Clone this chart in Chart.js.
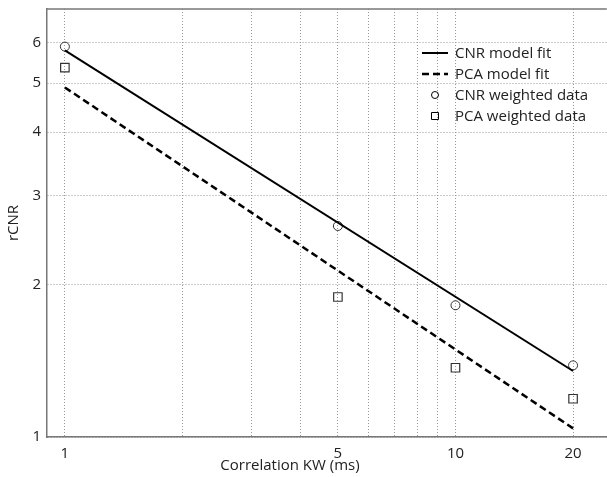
<!DOCTYPE html>
<html>
<head>
<meta charset="utf-8">
<script src="https://cdn.jsdelivr.net/npm/chart.js@4"></script>
<style>
  html, body { margin: 0; padding: 0; background: #fff; overflow: hidden; }
  /* a bit wider than the window so the plot box runs off the right edge, as in the picture */
  #wrap { width: 614px; height: 477px; }
</style>
</head>
<body>
<div id="wrap"><canvas id="myChart"></canvas></div>
<script>
// data
const kwValues = [1, 5, 10, 20];
const cnrData = [5.9, 2.61, 1.82, 1.385];
const pcaData = [5.36, 1.89, 1.37, 1.19];
const fitX = [1, 20];
const cnrFit = [5.8, 1.35];
const pcaFit = [4.9, 1.04];

const xGridValues = [1, 2, 3, 4, 5, 6, 7, 8, 9, 10, 20];
const xTickLabels = [1, 5, 10, 20];
const yGridValues = [1, 2, 3, 4, 5, 6];
const yTickLabels = [1, 2, 3, 4, 5, 6];

const legendLabels = ["CNR model fit", "PCA model fit", "CNR weighted data", "PCA weighted data"];

const FONT = "'Open Sans', 'Noto Sans', sans-serif";

function toPoints(xs, ys) {
  return xs.map((x, i) => ({ x: x, y: ys[i] }));
}

// draws the top border, the x title and the legend
const extras = {
  id: "extras",
  afterDraw(chart) {
    const ctx = chart.ctx;
    const area = chart.chartArea;
    ctx.save();
    ctx.strokeStyle = "#777";
    ctx.lineWidth = 1.5;
    ctx.beginPath();
    ctx.moveTo(area.left, area.top);
    ctx.lineTo(area.right, area.top);
    ctx.stroke();

    ctx.fillStyle = "#222";
    ctx.font = "15px " + FONT;
    ctx.textAlign = "center";
    ctx.textBaseline = "middle";
    ctx.fillText("Correlation KW (ms)", 290, 466);

    // legend
    const lx = 422, tx = 455;
    const rows = [53, 74, 95, 116];
    ctx.textAlign = "left";
    ctx.font = "15px " + FONT;
    chart.data.datasets.forEach((ds, i) => {
      const y = rows[i];
      ctx.strokeStyle = "#000";
      if (ds.showLine) {
        ctx.lineWidth = ds.borderWidth;
        ctx.setLineDash(ds.borderDash || []);
        ctx.beginPath();
        ctx.moveTo(lx, y);
        ctx.lineTo(lx + 26, y);
        ctx.stroke();
        ctx.setLineDash([]);
      } else {
        ctx.lineWidth = 1;
        ctx.beginPath();
        if (ds.pointStyle === "circle") {
          ctx.arc(lx + 13, y, 3.5, 0, Math.PI * 2);
        } else {
          ctx.rect(lx + 9.5, y - 3.5, 7, 7);
        }
        ctx.stroke();
      }
      ctx.fillStyle = "#222";
      ctx.fillText(legendLabels[i], tx, y + 1);
    });
    ctx.restore();
  }
};

const gridStyle = {
  color: "#999",
  lineWidth: 1,
  drawTicks: false
};

var ctx = document.getElementById("myChart").getContext("2d");
var myChart = new Chart(ctx, {
  type: "scatter",
  data: {
    datasets: [
      {
        label: legendLabels[0],
        data: toPoints(fitX, cnrFit),
        showLine: true,
        borderColor: "#000",
        borderWidth: 2,
        pointRadius: 0,
      },
      {
        label: legendLabels[1],
        data: toPoints(fitX, pcaFit),
        showLine: true,
        borderColor: "#000",
        borderWidth: 2.5,
        borderDash: [7, 4],
        pointRadius: 0,
      },
      {
        label: legendLabels[2],
        data: toPoints(kwValues, cnrData),
        pointStyle: "circle",
        pointRadius: 4.5,
        borderColor: "#333",
        borderWidth: 1,
        backgroundColor: "rgba(255,255,255,0)",
      },
      {
        label: legendLabels[3],
        data: toPoints(kwValues, pcaData),
        pointStyle: "rect",
        pointRadius: 6,
        borderColor: "#333",
        borderWidth: 1.2,
        backgroundColor: "rgba(255,255,255,0)",
      },
    ],
  },
  options: {
    responsive: true,
    maintainAspectRatio: false,
    animation: false,
    layout: { padding: { top: 9, right: 0, bottom: 16, left: 5 } },
    plugins: {
      legend: { display: false },
      tooltip: { enabled: false },
    },
    scales: {
      x: {
        type: "logarithmic",
        min: 0.9,
        max: 24.4,
        afterBuildTicks: (scale) => {
          scale.ticks = xGridValues.map((v) => ({ value: v }));
        },
        afterFit: (scale) => {
          scale.paddingLeft = 0;
          scale.paddingRight = 0;
          scale.height = 24;
        },
        ticks: {
          autoSkip: false,
          maxRotation: 0,
          padding: 8,
          color: "#222",
          font: { family: FONT, size: 15 },
          callback: (v) => (xTickLabels.includes(v) ? String(v) : ""),
        },
        grid: gridStyle,
        border: { display: true, color: "#777", width: 1.5, dash: [1, 2] },
      },
      y: {
        type: "logarithmic",
        min: 1,
        max: 7,
        afterBuildTicks: (scale) => {
          scale.ticks = yGridValues.map((v) => ({ value: v }));
        },
        afterFit: (scale) => {
          scale.width = 42;
          scale.paddingTop = 0;
          scale.paddingBottom = 0;
        },
        title: {
          display: true,
          text: "rCNR",
          color: "#222",
          font: { family: FONT, size: 15 },
          padding: { top: 0, bottom: 0 },
        },
        ticks: {
          autoSkip: false,
          padding: 6,
          color: "#222",
          font: { family: FONT, size: 15 },
          callback: (v) => (yTickLabels.includes(v) ? String(v) : ""),
        },
        grid: gridStyle,
        border: { display: true, color: "#777", width: 1.5, dash: [1, 2] },
      },
    },
  },
  plugins: [extras],
});
</script>
</body>
</html>
